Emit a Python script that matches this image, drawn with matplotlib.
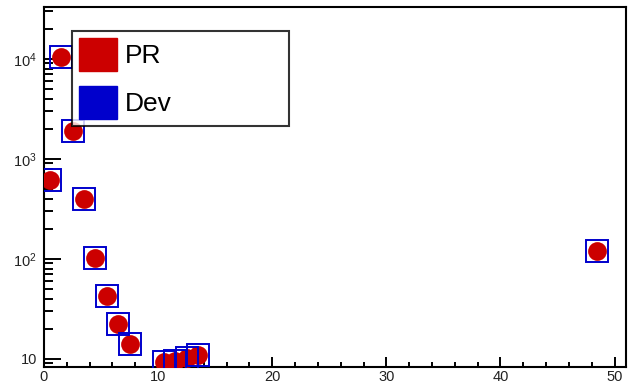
import numpy as np
import matplotlib
matplotlib.use("Agg")
import matplotlib.pyplot as plt
from matplotlib.patches import Patch
from matplotlib.ticker import FixedLocator, MultipleLocator

plt.rcParams['font.family'] = ['Liberation Sans', 'DejaVu Sans']
plt.rcParams['mathtext.fontset'] = 'custom'
plt.rcParams['mathtext.rm'] = 'Liberation Sans'

# data
x_vals = [0.5, 1.5, 2.5, 3.5, 4.5, 5.5, 6.5, 7.5, 10.5, 11.5, 12.5, 13.5, 48.5]
pr_vals = [620, 10500, 1900, 400, 102, 43, 22.5, 14, 9.3, 9.5, 10.2, 11, 120]
dev_vals = [620, 10500, 1900, 400, 102, 43, 22.5, 14, 9.3, 9.5, 10.2, 11, 120]

ytick_vals = [10, 100, 1000, 10000]
ytick_labels = ['10', r'$\mathregular{10^{2}}$', r'$\mathregular{10^{3}}$', r'$\mathregular{10^{4}}$']

red = '#cc0000'
blue = '#0000cc'

fig = plt.figure(figsize=(6.38, 3.86), dpi=100)
ax = fig.add_axes([44/638, 19/386, 582/638, 360/386])

ax.plot(x_vals, pr_vals, 'o', color=red, ms=13.5, mec='none', zorder=3)
ax.plot(x_vals, dev_vals, 's', mfc='none', mec=blue, mew=1.4, ms=15.5, zorder=4)

ax.set_yscale('log')
ax.set_xlim(0, 51)
ax.set_ylim(8.3, 33000)

ax.yaxis.set_major_locator(FixedLocator(ytick_vals))
ax.set_yticklabels(ytick_labels)
minors = [m * 10**d for d in range(0, 5) for m in range(2, 10)]
ax.yaxis.set_minor_locator(FixedLocator(minors))
ax.yaxis.set_minor_formatter(plt.NullFormatter())
ax.xaxis.set_major_locator(MultipleLocator(10))
ax.xaxis.set_minor_locator(MultipleLocator(2))

for s in ax.spines.values():
    s.set_linewidth(1.5)
ax.tick_params(axis='both', which='both', direction='in', width=1.4,
               top=False, right=False, labelsize=10.5, colors='black')
ax.tick_params(axis='y', which='major', length=12.5, pad=5)
ax.tick_params(axis='y', which='minor', length=6.5)
ax.tick_params(axis='x', which='major', length=7.5, pad=2)
ax.tick_params(axis='x', which='minor', length=3.5)
for lab in ax.get_yticklabels() + ax.get_xticklabels():
    lab.set_color('#222222')

handles = [Patch(facecolor=red, edgecolor=red), Patch(facecolor=blue, edgecolor=blue)]
leg = fig.legend(handles, ['PR', 'Dev'], loc='upper left',
                 bbox_to_anchor=(72/638, 1 - 31/386, 217/638, 0), mode='expand',
                 fontsize=19, frameon=True, fancybox=False, borderaxespad=0,
                 handlelength=1.45, handleheight=1.55, handletextpad=0.3,
                 labelspacing=0.55, borderpad=0.27)
leg.get_frame().set_edgecolor('black')
leg.get_frame().set_linewidth(1.5)

fig.savefig('out.png', dpi=100)
